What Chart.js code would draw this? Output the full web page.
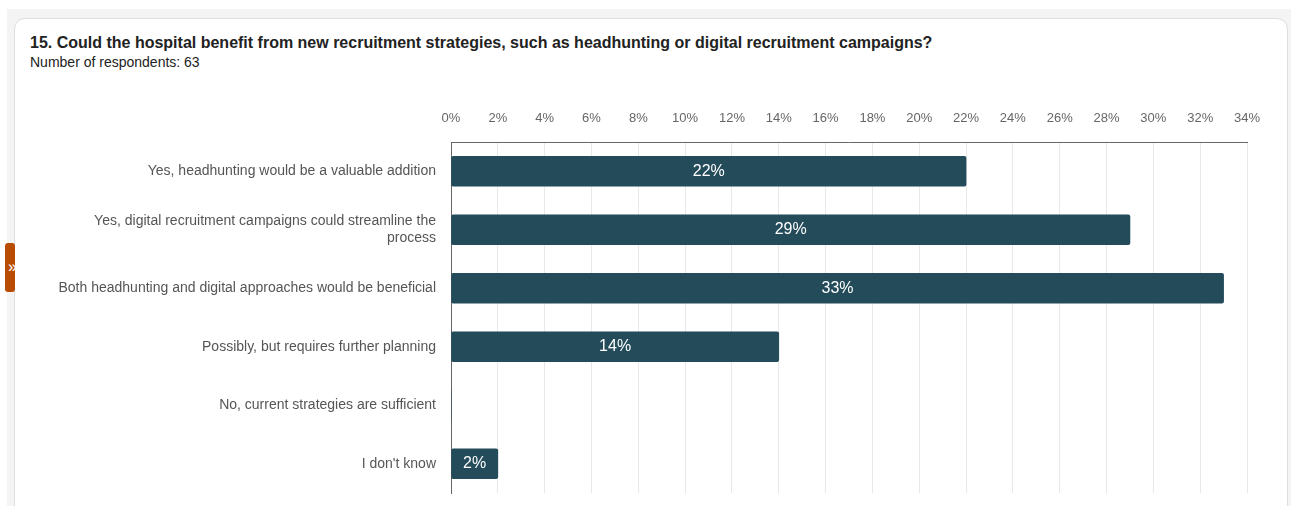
<!DOCTYPE html>
<html>
<head>
<meta charset="utf-8">
<title>Recruitment strategies</title>
<script src="https://cdn.jsdelivr.net/npm/chart.js@4/dist/chart.umd.min.js"></script>
<style>
  html, body { margin: 0; padding: 0; background: #fff; width: 1291px; height: 506px; overflow: hidden; font-family: "Liberation Sans", Arial, sans-serif; }
  .page { position: absolute; left: 7px; top: 9px; right: 0; bottom: 0; background: #f4f4f4; }
  .card { position: absolute; left: 14px; top: 18px; width: 1272px; height: 520px; background: #fff; border: 1px solid #dedede; border-radius: 11px; }
  .tab { position: absolute; left: 5px; top: 243px; width: 10px; height: 49px; background: #b84c00; border-radius: 3px; color: #fff; font-size: 16px; line-height: 47px; text-indent: 3px; overflow: hidden; }
  h1 { position: absolute; left: 30px; top: 34px; margin: 0; font-size: 16px; font-weight: bold; color: #222; }
  .sub { position: absolute; left: 30px; top: 54px; font-size: 14px; color: #222; }
  #grafico { position: absolute; left: 0; top: 0; }
</style>
</head>
<body>
<div class="page"></div>
<div class="card"></div>
<div class="tab">»</div>
<h1>15. Could the hospital benefit from new recruitment strategies, such as headhunting or digital recruitment campaigns?</h1>
<div class="sub">Number of respondents: 63</div>
<canvas id="grafico" width="1291" height="506"></canvas>

<script>
// answer options (long one wrapped on two lines)
const opciones = [
    "Yes, headhunting would be a valuable addition",
    ["Yes, digital recruitment campaigns could streamline the", "process"],
    "Both headhunting and digital approaches would be beneficial",
    "Possibly, but requires further planning",
    "No, current strategies are sufficient",
    "I don't know"
];
const porcentajes = [22, 29, 33, 14, 0, 2]; // share of respondents, %
const ejeMax = 34;
const ejePaso = 2;

// writes the percentage in the middle of each bar
const etiquetasBarras = {
    id: "etiquetasBarras",
    afterDatasetsDraw(chart) {
        const ctx = chart.ctx;
        const meta = chart.getDatasetMeta(0);
        ctx.save();
        ctx.font = "16px 'Liberation Sans', Arial, sans-serif";
        ctx.fillStyle = "#ffffff";
        ctx.textAlign = "center";
        ctx.textBaseline = "middle";
        meta.data.forEach((bar, i) => {
            const v = porcentajes[i];
            if (!v) return;
            const centro = (bar.base + bar.x) / 2;
            ctx.fillText(v + "%", centro, bar.y);
        });
        ctx.restore();
    }
};

const ctx = document.getElementById("grafico").getContext("2d");

new Chart(ctx, {
    type: "bar",
    data: {
        labels: opciones,
        datasets: [{
            data: porcentajes,
            backgroundColor: "#234b5a",
            borderRadius: 2,
            borderSkipped: false,
            barThickness: 30
        }]
    },
    options: {
        indexAxis: "y",
        responsive: false,
        animation: false,
        layout: { padding: { left: 30, right: 44, top: 100, bottom: 13 } },
        plugins: {
            legend: { display: false },
            tooltip: { enabled: false }
        },
        scales: {
            x: {
                position: "top",
                min: 0,
                max: ejeMax,
                ticks: {
                    stepSize: ejePaso,
                    padding: 16,
                    color: "#666",
                    font: { size: 13, family: "'Liberation Sans', Arial, sans-serif" },
                    callback: v => v + "%"
                },
                grid: { color: "#e8e8e8", drawTicks: false },
                border: { color: "#666", width: 1 },
                afterFit: s => { s.height = 42; }
            },
            y: {
                ticks: {
                    padding: 15,
                    color: "#555",
                    font: { size: 14, family: "'Liberation Sans', Arial, sans-serif", lineHeight: 1.25 }
                },
                grid: { display: false, drawTicks: false },
                border: { color: "#666", width: 1 },
                // fixed label column; the tick padding should not eat vertical space
                afterFit: s => {
                    s.width = 421;
                    s.paddingTop = 0;
                    s.paddingBottom = 0;
                }
            }
        }
    },
    plugins: [etiquetasBarras]
});
</script>
</body>
</html>
